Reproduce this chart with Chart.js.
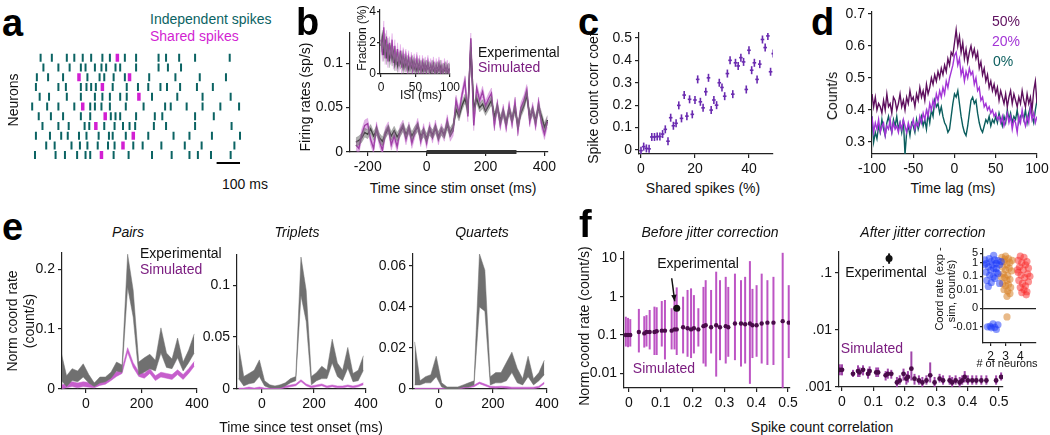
<!DOCTYPE html>
<html>
<head>
<meta charset="utf-8">
<script src="https://cdn.jsdelivr.net/npm/chart.js@4.4.1/dist/chart.umd.min.js"></script>
<style>
  html, body { margin: 0; padding: 0; background: #fff; }
  #fig { position: relative; width: 1050px; height: 435px; overflow: hidden; font-family: "Liberation Sans", Arial, sans-serif; color: #111; }
  #fig canvas { position: absolute; }
  .t { position: absolute; white-space: nowrap; line-height: 1; }
</style>
</head>
<body>
<div id="fig"></div>
<script>
// ---------- data ----------
// a: raster, spike times (ms) for 11 neurons
const rasterIndependent = [
    [36, 84, 148, 180, 216, 252, 300, 332, 396, 444, 540, 572, 628, 696, 844],
    [48, 112, 160, 208, 228, 268, 296, 316, 356, 376, 444, 540, 580, 636],
    [20, 68, 132, 236, 288, 308, 348, 396, 500, 612, 716, 828],
    [16, 112, 144, 208, 232, 252, 272, 344, 404, 452, 496, 548, 576, 632, 704, 772],
    [32, 72, 148, 208, 268, 300, 332, 376, 404, 512, 620, 728, 848],
    [0, 64, 112, 180, 248, 268, 296, 332, 400, 476, 568, 592, 660, 728, 804, 884],
    [28, 80, 132, 208, 248, 336, 356, 376, 444, 524, 556, 696, 776],
    [44, 112, 156, 224, 244, 308, 352, 388, 416, 440, 520, 572, 696, 852],
    [16, 76, 124, 152, 200, 232, 284, 328, 344, 400, 496, 604, 672, 768, 888],
    [60, 96, 168, 204, 236, 280, 324, 352, 432, 472, 552, 652, 724, 864],
    [12, 100, 140, 192, 228, 248, 348, 412, 512, 596, 672, 708, 764, 848]
];
const rasterShared = [[364], [], [200, 416], [300], [456], [216], [312], [272], [432], [388], [296]];
const scaleBarStart = 788, scaleBarLen = 100, scaleBarRow = 11.8;

// b: firing rates (sp/s), 10 ms bins from -240 ms
const rateStart = -240, rateStep = 10;
const rateExp = [0.011, 0.013, 0.016, 0.022, 0.020, 0.026, 0.018, 0.024, 0.016, 0.012,
    0.020, 0.026, 0.018, 0.024, 0.017, 0.022, 0.028, 0.020, 0.026, 0.018,
    0.024, 0.028, 0.018, 0.022, 0.016, 0.024, 0.020, 0.026, 0.018, 0.024,
    0.020, 0.030, 0.022, 0.028, 0.048, 0.040, 0.052, 0.060, 0.048, 0.118,
    0.050, 0.060, 0.050, 0.054, 0.046, 0.052, 0.058, 0.040, 0.050, 0.036,
    0.044, 0.034, 0.046, 0.038, 0.048, 0.030, 0.044, 0.052, 0.064, 0.040,
    0.046, 0.036, 0.050, 0.040, 0.028, 0.036];
const rateSim = [0.008, 0.004, 0.020, 0.030, 0.032, 0.014, 0.004, 0.028, 0.012, 0.002,
    0.022, 0.028, 0.008, 0.018, 0.006, 0.024, 0.030, 0.014, 0.028, 0.010,
    0.022, 0.032, 0.012, 0.026, 0.010, 0.028, 0.016, 0.030, 0.014, 0.026,
    0.018, 0.036, 0.018, 0.024, 0.058, 0.044, 0.064, 0.080, 0.040, 0.128,
    0.030, 0.072, 0.058, 0.068, 0.052, 0.060, 0.066, 0.030, 0.054, 0.030,
    0.048, 0.028, 0.052, 0.032, 0.056, 0.024, 0.050, 0.058, 0.070, 0.034,
    0.050, 0.030, 0.056, 0.032, 0.020, 0.034];
const rateExpSem = 0.005, rateSimSem = 0.006;
const stimStart = 0, stimEnd = 305;

// b inset: ISI distribution (%), 2 ms bins
const isiStep = 2;
const isiExp = [1.8, 2.4, 1.2, 2.2, 1.0, 1.9, 0.8, 1.6, 0.9, 1.4, 0.6, 1.2, 0.5, 1.0, 0.7, 1.1, 0.4, 0.9, 0.5, 0.8,
    0.3, 0.7, 0.4, 0.8, 0.3, 0.6, 0.2, 0.6, 0.3, 0.5, 0.2, 0.6, 0.2, 0.5, 0.3, 0.4, 0.1, 0.5, 0.2, 0.4,
    0.1, 0.4, 0.2, 0.5, 0.1, 0.3, 0.2, 0.4, 0.1, 0.3, 0.2];
const isiSim = [2.2, 1.2, 3.0, 1.0, 2.4, 0.8, 2.0, 1.0, 2.2, 0.7, 1.8, 0.6, 1.6, 0.5, 1.5, 0.4, 1.3, 0.5, 1.2, 0.3,
    1.1, 0.4, 1.0, 0.2, 0.9, 0.3, 1.0, 0.2, 0.8, 0.1, 0.8, 0.2, 0.7, 0.1, 0.8, 0.1, 0.6, 0.2, 0.7, 0.0,
    0.6, 0.1, 0.7, 0.1, 0.5, 0.0, 0.6, 0.1, 0.5, 0.0, 0.4];
const isiSem = 0.4;

// c: spike count correlation vs shared spikes
const sharedPct = [0, 1, 2, 3, 4, 5, 6, 7, 8, 9, 10, 11, 12, 13, 14, 15, 16, 17, 18, 19, 20, 21, 22, 23, 24,
    25, 26, 27, 28, 29, 30, 31, 32, 33, 34, 35, 36, 37, 38, 39, 40, 41, 42, 43, 44, 45, 46, 47, 48, 49];
const corrCoef = [-0.003, 0.015, 0.007, 0.005, 0.058, 0.058, 0.060, 0.060, 0.071, 0.092,
    0.039, 0.144, 0.108, 0.119, 0.199, 0.141, 0.245, 0.151, 0.226, 0.159,
    0.223, 0.315, 0.215, 0.188, 0.260, 0.322, 0.178, 0.223, 0.200, 0.300,
    0.279, 0.240, 0.341, 0.400, 0.249, 0.389, 0.375, 0.412, 0.393, 0.270,
    0.445, 0.356, 0.389, 0.315, 0.383, 0.493, 0.457, 0.509, 0.349, 0.430];

// d: cross-correlograms (count/s), 2 ms lags from -100 ms
const lagStart = -100, lagStep = 2;
const cc50 = [0.45, 0.41, 0.44, 0.40, 0.42, 0.41, 0.39, 0.43, 0.40, 0.45, 0.41, 0.42, 0.39, 0.44, 0.43, 0.40, 0.42, 0.45, 0.41, 0.43, 0.40, 0.44, 0.42, 0.46, 0.43,
    0.44, 0.41, 0.45, 0.43, 0.47, 0.44, 0.46, 0.43, 0.48, 0.45, 0.47, 0.50, 0.48, 0.51, 0.49, 0.52, 0.50, 0.53, 0.51, 0.54, 0.52, 0.56, 0.54, 0.58, 0.57,
    0.61, 0.65, 0.60, 0.63, 0.58, 0.61, 0.56, 0.59, 0.55, 0.58, 0.60, 0.57, 0.59, 0.56, 0.58, 0.53, 0.55, 0.51, 0.53, 0.49, 0.51, 0.47, 0.49, 0.46, 0.48,
    0.45, 0.47, 0.43, 0.46, 0.44, 0.42, 0.45, 0.41, 0.44, 0.46, 0.42, 0.45, 0.43, 0.41, 0.44, 0.42, 0.46, 0.43, 0.41, 0.45, 0.42, 0.44, 0.40, 0.46, 0.49, 0.42];
const cc20 = [0.38, 0.33, 0.36, 0.34, 0.37, 0.33, 0.35, 0.36, 0.32, 0.35, 0.34, 0.37, 0.33, 0.36, 0.34, 0.35, 0.33, 0.36, 0.34, 0.37, 0.35, 0.33, 0.36, 0.34, 0.35,
    0.37, 0.34, 0.36, 0.35, 0.38, 0.36, 0.39, 0.37, 0.40, 0.38, 0.42, 0.40, 0.43, 0.41, 0.45, 0.43, 0.46, 0.44, 0.47, 0.45, 0.49, 0.47, 0.50, 0.52, 0.54,
    0.57, 0.58, 0.54, 0.56, 0.51, 0.53, 0.49, 0.52, 0.50, 0.53, 0.51, 0.52, 0.48, 0.50, 0.46, 0.47, 0.43, 0.44, 0.41, 0.42, 0.40, 0.41, 0.39, 0.40, 0.38,
    0.39, 0.37, 0.38, 0.36, 0.38, 0.35, 0.37, 0.39, 0.36, 0.38, 0.34, 0.37, 0.36, 0.33, 0.38, 0.36, 0.40, 0.37, 0.35, 0.38, 0.36, 0.41, 0.37, 0.39, 0.36, 0.38];
const cc0 = [0.38, 0.30, 0.33, 0.31, 0.35, 0.33, 0.37, 0.34, 0.32, 0.36, 0.38, 0.35, 0.33, 0.37, 0.35, 0.38, 0.34, 0.36, 0.33, 0.37, 0.26, 0.33, 0.35, 0.32, 0.36,
    0.35, 0.33, 0.37, 0.34, 0.36, 0.38, 0.35, 0.37, 0.34, 0.39, 0.36, 0.40, 0.38, 0.43, 0.41, 0.42, 0.39, 0.41, 0.38, 0.36, 0.35, 0.33, 0.34, 0.38, 0.42,
    0.45, 0.44, 0.46, 0.42, 0.38, 0.35, 0.33, 0.32, 0.35, 0.39, 0.43, 0.44, 0.42, 0.43, 0.39, 0.36, 0.34, 0.33, 0.35, 0.37, 0.36, 0.38, 0.35, 0.37, 0.36,
    0.38, 0.36, 0.39, 0.37, 0.35, 0.38, 0.36, 0.40, 0.37, 0.39, 0.36, 0.38, 0.37, 0.40, 0.36, 0.38, 0.39, 0.37, 0.40, 0.36, 0.39, 0.41, 0.38, 0.36, 0.40, 0.43];

// e: normalized coordination rate (count/s), 20 ms bins from -90 ms
const coordStart = -90, coordStep = 20;
const pairsLo = [0.015, 0.004, 0.014, 0.012, 0.020, 0.010, 0.004, 0.010, 0.012, 0.018, 0.030, 0.028, 0.170, 0.120, 0.024, 0.028, 0.034, 0.030, 0.060, 0.036, 0.034, 0.052, 0.030, 0.044, 0.060];
const pairsHi = [0.062, 0.022, 0.034, 0.030, 0.042, 0.024, 0.010, 0.020, 0.020, 0.028, 0.045, 0.040, 0.225, 0.165, 0.045, 0.052, 0.058, 0.048, 0.102, 0.060, 0.050, 0.085, 0.045, 0.065, 0.092];
const pairsSim = [0.002, 0.006, 0.008, 0.006, 0.008, 0.007, 0.006, 0.010, 0.012, 0.018, 0.025, 0.030, 0.065, 0.040, 0.025, 0.022, 0.030, 0.018, 0.024, 0.022, 0.020, 0.028, 0.020, 0.030, 0.042];
const tripletsLo = [0.010, 0.003, 0.005, 0.006, 0.012, 0.003, 0.001, 0.001, 0.001, 0.003, 0.006, 0.008, 0.090, 0.065, 0.004, 0.008, 0.010, 0.010, 0.025, 0.012, 0.008, 0.020, 0.007, 0.008, 0.018];
const tripletsHi = [0.042, 0.012, 0.015, 0.018, 0.028, 0.008, 0.004, 0.003, 0.004, 0.006, 0.010, 0.012, 0.127, 0.095, 0.012, 0.016, 0.022, 0.018, 0.048, 0.025, 0.018, 0.040, 0.015, 0.018, 0.032];
const tripletsSim = [0.000, 0.000, 0.001, 0.000, 0.001, 0.000, 0.000, 0.001, 0.001, 0.002, 0.003, 0.004, 0.008, 0.004, 0.002, 0.003, 0.004, 0.002, 0.003, 0.002, 0.002, 0.003, 0.002, 0.003, 0.005];
const quartetsLo = [0.002, 0.002, 0.003, 0.003, 0.006, 0.001, 0.000, 0.000, 0.000, 0.001, 0.001, 0.002, 0.040, 0.038, 0.002, 0.003, 0.003, 0.004, 0.008, 0.003, 0.002, 0.006, 0.002, 0.004, 0.007];
const quartetsHi = [0.023, 0.004, 0.006, 0.007, 0.016, 0.003, 0.001, 0.001, 0.001, 0.002, 0.003, 0.004, 0.066, 0.058, 0.006, 0.008, 0.008, 0.013, 0.018, 0.010, 0.005, 0.016, 0.005, 0.008, 0.014];
const quartetsSim = [0, 0, 0, 0, 0, 0, 0, 0, 0.0003, 0.0008, 0.001, 0.0015, 0.003, 0.002, 0.001, 0.0008, 0.001, 0.0008, 0.0005, 0.0005, 0.0005, 0.0005, 0.0005, 0.001, 0.003];

// f left: before jitter correction
const beforeCorr = [-0.01, -0.003, 0.004, 0.031, 0.048, 0.055, 0.065, 0.08, 0.087, 0.103, 0.113, 0.134, 0.143, 0.15, 0.17, 0.184, 0.195, 0.204, 0.218,
    0.234, 0.241, 0.258, 0.274, 0.286, 0.304, 0.312, 0.333, 0.352, 0.365, 0.38, 0.388, 0.401, 0.417, 0.435, 0.454, 0.483, 0.502];
const beforeMean = [0.10, 0.10, 0.10, 0.12, 0.11, 0.12, 0.12, 0.12, 0.125, 0.13, 0.13, 0.13, 0.14, 0.14, 0.16, 0.15, 0.14, 0.15, 0.14,
    0.17, 0.18, 0.16, 0.18, 0.16, 0.17, 0.16, 0.20, 0.20, 0.19, 0.20, 0.18, 0.18, 0.20, 0.21, 0.21, 0.23, 0.21];
const beforeLo = [0.050, 0.048, 0.050, 0.035, 0.047, 0.050, 0.042, 0.030, 0.030, 0.050, 0.023, 0.042, 0.042, 0.030, 0.033, 0.027, 0.025, 0.033, 0.050,
    0.018, 0.015, 0.033, 0.0082, 0.022, 0.018, 0.027, 0.022, 0.015, 0.018, 0.0053, 0.025, 0.027, 0.018, 0.0165, 0.0165, 0.003, 0.025];
const beforeHi = [0.30, 0.28, 0.26, 0.48, 0.31, 0.33, 0.45, 0.55, 0.53, 0.77, 0.82, 0.50, 1.1, 1.75, 1.0, 1.5, 1.65, 1.1, 0.50,
    1.8, 2.7, 1.5, 4.5, 2.7, 3.3, 1.8, 4.0, 2.7, 3.3, 8.5, 1.6, 2.0, 4.0, 2.7, 3.3, 14, 2.0];
const beforeExp = {x: 0.15, y: 0.5};

// f right: after jitter correction
const afterCorr = [-0.007, 0.0, 0.035, 0.051, 0.056, 0.067, 0.083, 0.088, 0.109, 0.115, 0.139, 0.146, 0.157, 0.175, 0.184, 0.196, 0.205, 0.21, 0.221, 0.231,
    0.245, 0.256, 0.269, 0.281, 0.295, 0.311, 0.322, 0.343, 0.351, 0.362, 0.375, 0.383, 0.391, 0.401, 0.415, 0.428, 0.444, 0.46, 0.491, 0.507];
const afterMean = [0.0020, 0.0020, 0.0017, 0.0019, 0.0018, 0.0020, 0.0017, 0.0019, 0.0018, 0.0018, 0.0016, 0.0017, 0.0017, 0.0012, 0.0013, 0.0017, 0.0014, 0.0015, 0.0021, 0.0014,
    0.0013, 0.0012, 0.0013, 0.0016, 0.0012, 0.0014, 0.0013, 0.0013, 0.0012, 0.0013, 0.0012, 0.0013, 0.0015, 0.0013, 0.0013, 0.0013, 0.0013, 0.0013, 0.0013, 0.0015];
const afterLo = [0.0016, 0.0016, 0.0015, 0.0015, 0.0015, 0.0016, 0.0014, 0.0016, 0.0015, 0.0015, 0.0013, 0.0014, 0.0014, 0.0010, 0.0011, 0.0013, 0.0011, 0.0012, 0.0013, 0.0011,
    0.0011, 0.0010, 0.0011, 0.0012, 0.0010, 0.0012, 0.0011, 0.0011, 0.0010, 0.0011, 0.0010, 0.0011, 0.0012, 0.0011, 0.0011, 0.0011, 0.0011, 0.0011, 0.0011, 0.0013];
const afterHi = [0.0025, 0.0025, 0.0020, 0.0024, 0.0022, 0.0024, 0.0021, 0.0023, 0.0022, 0.0022, 0.0019, 0.0021, 0.0020, 0.0015, 0.0016, 0.0021, 0.0017, 0.0019, 0.0042, 0.0017,
    0.0016, 0.0015, 0.0016, 0.0027, 0.0015, 0.0017, 0.0016, 0.0016, 0.0015, 0.0016, 0.0015, 0.0016, 0.0019, 0.0016, 0.0016, 0.0016, 0.0016, 0.0016, 0.0016, 0.0018];
const afterExp = {x: 0.15, y: 0.18, lo: 0.145, hi: 0.22};

// f inset: coord rate (exp - sim) by group size
const insetBlueX = [1.6, 1.7, 1.9, 2.04, 2.27, 2.38, 2.49, 1.84, 2.0, 2.2, 1.69, 2.38, 1.93, 2.16, 2.49, 1.74, 2.04, 2.27, 2.6, 1.84, 2.38, 2.11, 2.6, 1.6, 2.71, 2.2,
    2.16, 2.49, 1.96, 2.27, 2.04, 2.38, 1.78];
const insetBlueV = [1.6, 0.9, 2, 1.2, 1.6, 0.9, 1.4, 0.5, 0.28, 0.38, 0.2, 0.2, 0.12, 0.09, 0.16, 0.05, 0.035, 0.07, 0.03, 0.018, 0.38, 0.7, 0.7, 0.7, 1.2, 3.5,
    -0.006, -0.007, -0.009, -0.011, -0.012, -0.016, -0.01];
const insetOrangeX = [2.75, 3.0, 3.2, 2.9, 3.3, 3.1, 2.8, 3.25, 3.0, 3.4, 2.85, 3.15, 2.95, 3.3, 3.1, 2.8, 3.2, 3.0, 3.35, 2.9, 3.15, 3.3, 3.1, 2.95, 3.45, 2.7, 3.1];
const insetOrangeV = [2.5, 3, 2, 1.2, 1, 0.7, 0.5, 0.4, 0.3, 0.25, 0.15, 0.12, 0.08, 0.06, 0.05, 0.03, 0.025, 0.02, 0.015, 0.01, 0.008, 0.005, 0.003, 1.8, 1.5, 0.09, -0.0015];
const insetRedX = [4.0, 4.25, 3.85, 4.45, 4.1, 4.35, 3.95, 4.55, 4.2, 3.85, 4.5, 4.05, 4.3, 3.9, 4.55, 4.15, 4.35, 4.0, 4.25, 4.45, 4.1, 4.65, 3.8, 4.4];
const insetRedV = [3, 2.5, 1.5, 1.2, 1, 0.7, 0.5, 0.4, 0.3, 0.2, 0.15, 0.12, 0.08, 0.05, 0.04, 0.03, 0.02, 0.015, 0.01, 0.007, 0.006, 0.1, 0.3, 0.004];
const insetTicks = [5, 1, 0.1, 0.01, 0, -0.01];
const insetTickLabels = ['5', '1', '0.1', '0.01', '0', '-0.01'];
const symThresh = 0.00046;

// ---------- colours ----------
const AX = '#222';
const teal = '#0b6363';
const magenta = '#d21fd2';
const simPurple = '#7b1d80';
const violet = '#6a2bb0';
const c50 = '#5e0f5e', c20 = '#a335d6', c0 = '#0b5e5e';

// ---------- helpers ----------
const fig = document.getElementById('fig');
Chart.defaults.font.family = '"Liberation Sans", Arial, sans-serif';
Chart.defaults.font.size = 14;
Chart.defaults.color = '#111';

const pts = (xs, ys) => xs.map((x, i) => ({x, y: ys[i]}));
const grid = (n, start, step) => Array.from({length: n}, (_, i) => start + i * step);
const sym = v => Math.sign(v) * Math.log10(1 + Math.abs(v) / symThresh);

function panel(box, config) {
    const c = document.createElement('canvas');
    const w = box.x1 - box.x0 + box.yW + box.padR;
    const h = box.y1 - box.y0 + box.padT + box.xH;
    c.width = w; c.height = h;
    c.style.left = (box.x0 - box.yW) + 'px';
    c.style.top = (box.y0 - box.padT) + 'px';
    c.style.width = w + 'px'; c.style.height = h + 'px';
    fig.appendChild(c);
    const o = config.options;
    o.responsive = false;
    o.animation = false;
    o.layout = {padding: {top: box.padT, right: box.padR, left: 0, bottom: 0}};
    o.plugins = Object.assign({legend: {display: false}, tooltip: {enabled: false}}, o.plugins || {});
    o.scales.x.afterFit = s => { s.height = box.xH; };
    o.scales.y.afterFit = s => { s.width = box.yW; };
    return new Chart(c, config);
}

function ax(min, max, ticks, o = {}) {
    return {
        type: o.type || 'linear', min, max,
        afterBuildTicks: s => { s.ticks = ticks.map(v => ({value: v})); },
        grid: Object.assign({drawOnChartArea: false, tickLength: o.tickLen || 4, color: AX, lineWidth: 1.2}, o.grid || {}),
        border: {color: AX, width: 1.2},
        ticks: {
            padding: o.pad === undefined ? 3 : o.pad, color: '#111', autoSkip: false, maxRotation: 0, font: {size: o.size || 14},
            callback: (v, i) => o.labels ? o.labels[i] : String(v)
        }
    };
}

function band(xs, lo, hi, color) {
    return [
        {data: pts(xs, hi), fill: '+1', backgroundColor: color, borderColor: color, borderWidth: 0.5, pointRadius: 0},
        {data: pts(xs, lo), fill: false, borderColor: color, borderWidth: 0.5, pointRadius: 0}
    ];
}

function text(str, x, y, o = {}) {
    const d = document.createElement('div');
    d.className = 't';
    d.textContent = str;
    d.style.left = x + 'px';
    d.style.top = y + 'px';
    d.style.fontSize = (o.size || 14) + 'px';
    d.style.color = o.color || '#111';
    if (o.italic) d.style.fontStyle = 'italic';
    let tf = o.align === 'left' ? 'translate(0,-50%)' : 'translate(-50%,-50%)';
    if (o.rotate) tf += ' rotate(-90deg)';
    d.style.transform = tf;
    fig.appendChild(d);
}

function letter(ch, x, base) {
    const d = document.createElement('div');
    d.className = 't';
    d.textContent = ch;
    d.style.left = x + 'px';
    d.style.top = (base - 0.8465 * 38) + 'px';
    d.style.fontSize = '38px';
    d.style.fontWeight = 'bold';
    d.style.color = '#000';
    fig.appendChild(d);
}

// vertical error bars from dataset.errLo / errHi
const errorBars = {
    id: 'errorBars',
    beforeDatasetsDraw(chart) {
        const {ctx, chartArea: a, scales: {x, y}} = chart;
        ctx.save();
        ctx.beginPath();
        ctx.rect(a.left, a.top, a.right - a.left, a.bottom - a.top);
        ctx.clip();
        chart.data.datasets.forEach(ds => {
            if (!ds.errLo) return;
            ctx.strokeStyle = ds.errColor;
            ctx.lineWidth = ds.errWidth;
            ds.data.forEach((p, i) => {
                const px = x.getPixelForValue(p.x);
                ctx.beginPath();
                ctx.moveTo(px, y.getPixelForValue(ds.errLo[i]));
                ctx.lineTo(px, y.getPixelForValue(ds.errHi[i]));
                ctx.stroke();
            });
        });
        ctx.restore();
    }
};

// arrow pointing at the experimental point
const arrowToPoint = {
    id: 'arrowToPoint',
    afterDatasetsDraw(chart) {
        const ds = chart.data.datasets.find(d => d.arrow);
        if (!ds) return;
        const {ctx, scales: {x, y}} = chart;
        const px = x.getPixelForValue(ds.data[0].x), py = y.getPixelForValue(ds.data[0].y);
        const x0 = px - 5, y0 = py - 30, x1 = px - 2, y1 = py - 7;
        const ang = Math.atan2(y1 - y0, x1 - x0);
        ctx.save();
        ctx.strokeStyle = '#111'; ctx.fillStyle = '#111'; ctx.lineWidth = 1.5;
        ctx.beginPath(); ctx.moveTo(x0, y0); ctx.lineTo(x1, y1); ctx.stroke();
        ctx.beginPath();
        ctx.moveTo(x1, y1);
        ctx.lineTo(x1 - 7 * Math.cos(ang - 0.4), y1 - 7 * Math.sin(ang - 0.4));
        ctx.lineTo(x1 - 7 * Math.cos(ang + 0.4), y1 - 7 * Math.sin(ang + 0.4));
        ctx.closePath(); ctx.fill();
        ctx.restore();
    }
};

// ---------- a: raster ----------
const indep = [], shared = [];
rasterIndependent.forEach((row, r) => row.forEach(t => indep.push({x: t, y: r + 1})));
rasterShared.forEach((row, r) => row.forEach(t => shared.push({x: t, y: r + 1})));
panel({x0: 20, x1: 255, y0: 44, y1: 174, yW: 0, xH: 0, padT: 0, padR: 0}, {
    type: 'scatter',
    data: {datasets: [
        {data: indep, pointStyle: 'line', pointRotation: 90, pointRadius: 4, pointBorderWidth: 2, pointBorderColor: teal},
        {data: shared, pointStyle: 'line', pointRotation: 90, pointRadius: 4, pointBorderWidth: 3.5, pointBorderColor: magenta},
        {data: [{x: scaleBarStart, y: scaleBarRow}, {x: scaleBarStart + scaleBarLen, y: scaleBarRow}],
            showLine: true, borderColor: '#000', borderWidth: 2, pointRadius: 0}
    ]},
    options: {scales: {
        x: {type: 'linear', display: false, min: -20, max: 920},
        y: {type: 'linear', display: false, min: 0.35, max: 12.17, reverse: true}
    }}
});

// ---------- b: firing rates ----------
const rateX = grid(rateExp.length, rateStart, rateStep);
panel({x0: 350, x1: 548, y0: 33, y1: 152, yW: 40, xH: 24, padT: 12, padR: 16}, {
    type: 'line',
    data: {datasets: [
        ...band(rateX, rateExp.map(v => v - rateExpSem), rateExp.map(v => v + rateExpSem), 'rgba(110,110,110,0.55)'),
        ...band(rateX, rateSim.map(v => v - rateSimSem), rateSim.map(v => v + rateSimSem), 'rgba(195,100,205,0.5)'),
        {data: pts(rateX, rateSim), borderColor: simPurple, borderWidth: 1.4, pointRadius: 0},
        {data: pts(rateX, rateExp), borderColor: '#111', borderWidth: 1.4, pointRadius: 0},
        {data: [{x: stimStart, y: 0}, {x: stimEnd, y: 0}], borderColor: '#333', borderWidth: 4, pointRadius: 0, clip: false}
    ]},
    options: {scales: {x: ax(-260, 412, [-200, 0, 200, 400]), y: ax(0, 0.134, [0, 0.05, 0.1])}}
});

// b inset: ISI
const isiX = grid(isiExp.length, 0, isiStep);
panel({x0: 380, x1: 450, y0: 10, y1: 74, yW: 14, xH: 18, padT: 10, padR: 14}, {
    type: 'line',
    data: {datasets: [
        ...band(isiX, isiExp.map(v => Math.max(v - isiSem, 0)), isiExp.map(v => v + isiSem), 'rgba(120,120,120,0.5)'),
        ...band(isiX, isiSim.map(v => Math.max(v - isiSem, 0)), isiSim.map(v => v + isiSem), 'rgba(200,90,210,0.45)'),
        {data: pts(isiX, isiSim), borderColor: simPurple, borderWidth: 1.1, pointRadius: 0},
        {data: pts(isiX, isiExp), borderColor: '#111', borderWidth: 1.1, pointRadius: 0}
    ]},
    options: {scales: {
        x: ax(-1.5, 100, [0, 50, 100], {size: 12, tickLen: 3}),
        y: ax(0, 4.1, [0, 2, 4], {size: 12, tickLen: 3, pad: 1})
    }}
});

// ---------- c: correlation vs shared spikes ----------
panel({x0: 639, x1: 773, y0: 33, y1: 154, yW: 34, xH: 24, padT: 12, padR: 14}, {
    type: 'scatter',
    data: {datasets: [
        {data: pts(sharedPct, corrCoef), pointStyle: 'line', pointRotation: 90, pointRadius: 4, pointBorderWidth: 1.6, pointBorderColor: violet},
        {data: pts(sharedPct, corrCoef), pointStyle: 'line', pointRadius: 1.8, pointBorderWidth: 1.6, pointBorderColor: violet}
    ]},
    options: {scales: {x: ax(-0.74, 48.9, [0, 20, 40]), y: ax(-0.018, 0.522, [0, 0.1, 0.2, 0.3, 0.4, 0.5])}}
});

// ---------- d: cross-correlograms ----------
const lagX = grid(cc50.length, lagStart, lagStep);
panel({x0: 872, x1: 1037, y0: 12, y1: 154, yW: 34, xH: 24, padT: 12, padR: 16}, {
    type: 'line',
    data: {datasets: [
        {data: pts(lagX, cc50), borderColor: c50, borderWidth: 1.4, pointRadius: 0},
        {data: pts(lagX, cc20), borderColor: c20, borderWidth: 1.4, pointRadius: 0},
        {data: pts(lagX, cc0), borderColor: c0, borderWidth: 1.4, pointRadius: 0}
    ]},
    options: {scales: {x: ax(-100, 100, [-100, -50, 0, 50, 100]), y: ax(0.2625, 0.706, [0.3, 0.4, 0.5, 0.6, 0.7])}}
});

// ---------- e: coordination rates ----------
function coordPanel(box, xMin, lo, hi, sim, simHalf, yMax, yTicks) {
    const xs = grid(lo.length, coordStart, coordStep);
    return panel(box, {
        type: 'line',
        data: {datasets: [
            ...band(xs, lo, hi, '#707070'),
            ...band(xs, sim.map(v => Math.max(v - simHalf, 0)), sim.map(v => v + simHalf), '#c65ecc')
        ]},
        options: {scales: {x: ax(xMin, 400, [0, 200, 400]), y: ax(0, yMax, yTicks)}}
    });
}
coordPanel({x0: 62, x1: 197, y0: 253, y1: 389, yW: 34, xH: 24, padT: 12, padR: 16}, -86.5, pairsLo, pairsHi, pairsSim, 0.004, 0.227, [0, 0.1, 0.2]);
coordPanel({x0: 237, x1: 366, y0: 255, y1: 389, yW: 40, xH: 24, padT: 12, padR: 16}, -96, tripletsLo, tripletsHi, tripletsSim, 0.0009, 0.129, [0, 0.05, 0.1]);
coordPanel({x0: 413, x1: 547, y0: 254, y1: 389, yW: 40, xH: 24, padT: 12, padR: 16}, -96, quartetsLo, quartetsHi, quartetsSim, 0.0004, 0.0659, [0, 0.02, 0.04, 0.06]);

// ---------- f left: before jitter correction ----------
panel({x0: 624, x1: 790, y0: 252, y1: 388, yW: 40, xH: 24, padT: 12, padR: 14}, {
    type: 'scatter',
    data: {datasets: [
        {data: pts(beforeCorr, beforeMean), errLo: beforeLo, errHi: beforeHi, errColor: 'rgba(180,62,188,0.88)', errWidth: 2,
            pointRadius: 2.2, pointBackgroundColor: '#4a0c4a', pointBorderWidth: 0},
        {data: [beforeExp], arrow: true, pointRadius: 3.5, pointBackgroundColor: '#111', pointBorderWidth: 0}
    ]},
    options: {scales: {
        x: ax(-0.0157, 0.506, [0, 0.1, 0.2, 0.3, 0.4, 0.5]),
        y: ax(0.00413, 14.7, [0.01, 0.1, 1, 10], {type: 'logarithmic', labels: ['0.01', '0.1', '1', '10']})
    }},
    plugins: [errorBars, arrowToPoint]
});

// ---------- f right: after jitter correction ----------
panel({x0: 839, x1: 1003, y0: 252, y1: 387, yW: 40, xH: 24, padT: 12, padR: 14}, {
    type: 'scatter',
    data: {datasets: [
        {data: pts(afterCorr, afterMean), errLo: afterLo, errHi: afterHi, errColor: 'rgba(150,50,160,0.9)', errWidth: 2,
            pointRadius: 2.4, pointBackgroundColor: '#4a0c4a', pointBorderWidth: 0},
        {data: [{x: afterExp.x, y: afterExp.y}], errLo: [afterExp.lo], errHi: [afterExp.hi], errColor: '#111', errWidth: 2,
            pointRadius: 3.5, pointBackgroundColor: '#111', pointBorderWidth: 0}
    ]},
    options: {scales: {
        x: ax(-0.0096, 0.513, [0, 0.1, 0.2, 0.3, 0.4, 0.5]),
        y: ax(0.001, 0.233, [0.001, 0.01, 0.1], {type: 'logarithmic', labels: ['.001', '.01', '.1']})
    }},
    plugins: [errorBars]
});

// f inset: symmetric-log coord rate differences
const dots = (xs, vs) => xs.map((x, i) => ({x, y: sym(vs[i])}));
panel({x0: 983, x1: 1036, y0: 249, y1: 343, yW: 34, xH: 18, padT: 10, padR: 12}, {
    type: 'scatter',
    data: {datasets: [
        {data: dots(insetBlueX, insetBlueV), pointRadius: 3.6, pointBackgroundColor: 'rgba(25,55,250,0.5)', pointBorderWidth: 0},
        {data: dots(insetOrangeX, insetOrangeV), pointRadius: 3.6, pointBackgroundColor: 'rgba(215,130,40,0.55)', pointBorderWidth: 0},
        {data: dots(insetRedX, insetRedV), pointRadius: 3.6, pointBackgroundColor: 'rgba(250,40,40,0.5)', pointBorderWidth: 0}
    ]},
    options: {scales: {
        x: ax(1.48, 5.06, [2, 3, 4], {size: 12, tickLen: 3}),
        y: ax(-2.54, 4.34, insetTicks.map(sym), {size: 11, tickLen: 3, pad: 2, labels: insetTickLabels,
            grid: {drawOnChartArea: true, color: c => (c.tick && c.tick.value === 0 ? AX : 'rgba(0,0,0,0)'), tickColor: AX}})
    }}
});

// ---------- text ----------
letter('a', 2, 36); letter('b', 296, 35); letter('c', 578, 35); letter('d', 811, 35);
letter('e', 2, 240); letter('f', 579, 237);

text('Independent spikes', 150, 19, {align: 'left', color: teal});
text('Shared spikes', 150, 36, {align: 'left', color: magenta});
text('Neurons', 13, 100, {rotate: true});
text('100 ms', 222, 184, {align: 'left'});

text('Experimental', 478, 52, {align: 'left'});
text('Simulated', 478, 67, {align: 'left', color: simPurple});
text('Firing rates (sp/s)', 305, 97, {rotate: true});
text('Time since stim onset (ms)', 453, 188);
text('Fraction (%)', 362, 38, {rotate: true, size: 12});
text('ISI (ms)', 421, 95, {size: 12});

text('Spike count corr coef', 593, 98, {rotate: true});
text('Shared spikes (%)', 703, 188);

text('50%', 992, 21, {align: 'left', color: c50});
text('20%', 992, 41, {align: 'left', color: c20});
text('0%', 993, 61, {align: 'left', color: c0});
text('Count/s', 832, 96, {rotate: true});
text('Time lag (ms)', 953, 188);

text('Pairs', 128, 232, {italic: true});
text('Triplets', 297, 232, {italic: true});
text('Quartets', 482, 232, {italic: true});
text('Experimental', 140, 253, {align: 'left'});
text('Simulated', 140, 269, {align: 'left', color: simPurple});
text('Norm coord rate', 12, 321, {rotate: true});
text('(count/s)', 29, 321, {rotate: true});
text('Time since test onset (ms)', 301, 427);

text('Before jitter correction', 710, 232, {italic: true});
text('After jitter correction', 923, 232, {italic: true});
text('Experimental', 698, 263);
text('Simulated', 664, 368, {color: simPurple});
text('Experimental', 886, 272);
text('Simulated', 872, 348, {color: simPurple});
text('Norm coord rate (count/s)', 584, 326, {rotate: true});
text('Spike count correlation', 822, 427);
text('Coord rate (exp -', 939, 289, {rotate: true, size: 11});
text('sim, count/s)', 951, 291, {rotate: true, size: 11});
text('# of neurons', 1007, 363, {size: 11});
</script>
</body>
</html>
